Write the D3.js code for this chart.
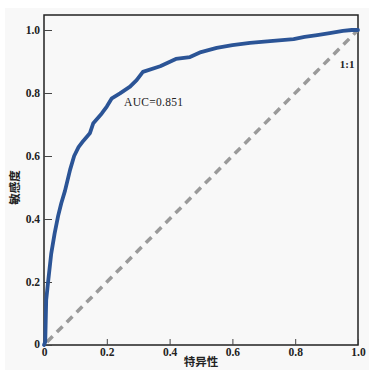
<!DOCTYPE html>
<html>
<head>
<meta charset="utf-8">
<script src="https://cdn.jsdelivr.net/npm/d3@7"></script>
<style>
  body { margin: 0; background: #fff; }
  text { font-family: "Liberation Serif", "DejaVu Serif", serif; }
  .cjk { font-family: "Noto Sans CJK SC", sans-serif; }
</style>
</head>
<body>
<div id="chart"></div>
<script>
// ROC curve data (1 - specificity, sensitivity)
var fprValues = [0, 0.004, 0.007, 0.013, 0.023, 0.034, 0.045, 0.055, 0.067, 0.083, 0.096, 0.11, 0.125, 0.146, 0.157,
  0.184, 0.2, 0.216, 0.242, 0.274, 0.295, 0.315, 0.37, 0.42, 0.465, 0.5, 0.55, 0.6, 0.656, 0.72, 0.795, 0.83, 0.87, 0.91, 0.952, 0.98, 1];
var tprValues = [0, 0.01, 0.143, 0.2, 0.29, 0.355, 0.41, 0.45, 0.49, 0.556, 0.6, 0.628, 0.648, 0.672, 0.704,
  0.735, 0.757, 0.783, 0.799, 0.82, 0.841, 0.867, 0.885, 0.908, 0.914, 0.93, 0.943, 0.952, 0.959, 0.965, 0.971, 0.978, 0.984, 0.99, 0.997, 1, 1];
var diagonal = [0, 1];
var xTicks = [0, 0.2, 0.4, 0.6, 0.8, 1.0];
var yTicks = [0, 0.2, 0.4, 0.6, 0.8, 1.0];
var xTitle = "特异性";
var yTitle = "敏感度";
var aucLabel = "AUC=0.851";
var refLabel = "1:1";

var width = 378, height = 374;
var margin = {top: 15, right: 20, bottom: 29, left: 44};

var svg = d3.select("#chart").append("svg")
  .attr("width", width)
  .attr("height", height);

// light grey backdrop
svg.append("rect")
  .attr("x", 5).attr("y", 8)
  .attr("width", 364).attr("height", 362)
  .attr("fill", "#f8f8f8");

var x = d3.scaleLinear().domain([0, 1]).range([margin.left, 358]);
var y = d3.scaleLinear().domain([0, 1]).range([345, 30]);

var fmt = function(d) { return d === 0 ? "0" : d3.format(".1f")(d); };

// frame
svg.append("rect")
  .attr("x", x(0)).attr("y", margin.top)
  .attr("width", x(1) - x(0)).attr("height", y(0) - margin.top)
  .attr("fill", "none")
  .attr("stroke", "#222")
  .attr("stroke-width", 1.5);

// axes (inward ticks)
var xAxis = svg.append("g")
  .attr("transform", "translate(0," + y(0) + ")")
  .call(d3.axisBottom(x).tickValues(xTicks).tickFormat(fmt).tickSizeInner(-6).tickSizeOuter(0).tickPadding(3));
var yAxis = svg.append("g")
  .attr("transform", "translate(" + x(0) + ",0)")
  .call(d3.axisLeft(y).tickValues(yTicks).tickFormat(fmt).tickSizeInner(-8).tickSizeOuter(0).tickPadding(4));

[xAxis, yAxis].forEach(function(g) {
  g.select(".domain").remove();
  g.selectAll(".tick line").attr("stroke", "#444");
  g.selectAll(".tick text")
    .attr("fill", "#222")
    .style("font-size", "11.5px")
    .style("font-weight", "bold")
    .style("font-family", "'Liberation Serif', serif");
});
yAxis.selectAll(".tick text").filter(function(d) { return d === 0; }).attr("dy", "0.2em");

// 1:1 dashed reference
svg.append("line")
  .attr("x1", x(diagonal[0]) + 3).attr("y1", y(diagonal[0]) - 3)
  .attr("x2", x(diagonal[1])).attr("y2", y(diagonal[1]))
  .attr("stroke", "#9a9a9a")
  .attr("stroke-width", 3.5)
  .attr("stroke-dasharray", "8,6");

// ROC curve
var pts = fprValues.map(function(f, i) { return [f, tprValues[i]]; });
var line = d3.line()
  .x(function(d) { return x(d[0]); })
  .y(function(d) { return y(d[1]); });
svg.append("path")
  .datum(pts)
  .attr("d", line)
  .attr("fill", "none")
  .attr("stroke", "#2b5496")
  .attr("stroke-width", 3.8)
  .attr("stroke-linejoin", "round")
  .attr("stroke-linecap", "round");

// annotations
svg.append("text")
  .attr("x", x(0.255)).attr("y", y(0.758))
  .style("font-size", "11.5px")
  .style("letter-spacing", "0.3px")
  .attr("fill", "#222")
  .text(aucLabel);
svg.append("text")
  .attr("x", x(0.942)).attr("y", y(0.88))
  .style("font-size", "11px")
  .style("font-weight", "bold")
  .attr("fill", "#222")
  .text(refLabel);

// axis titles
svg.append("text")
  .attr("class", "cjk")
  .attr("x", x(0.5)).attr("y", 366)
  .attr("text-anchor", "middle")
  .style("font-size", "11.5px")
  .style("font-weight", "bold")
  .attr("fill", "#222")
  .text(xTitle);
svg.append("text")
  .attr("class", "cjk")
  .attr("transform", "translate(19," + y(0.5) + ") rotate(-90)")
  .attr("text-anchor", "middle")
  .style("font-size", "11.5px")
  .style("font-weight", "bold")
  .attr("fill", "#222")
  .text(yTitle);
</script>
</body>
</html>
